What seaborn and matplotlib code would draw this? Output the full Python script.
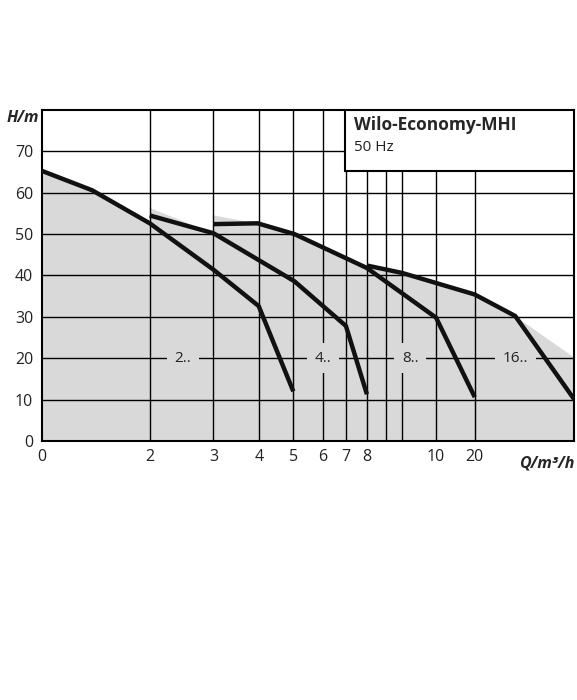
import matplotlib
matplotlib.use("Agg")
import matplotlib.pyplot as plt
import seaborn as sns
import numpy as np
import pandas as pd

sns.set_theme(style="white")
plt.rcParams['font.family'] = ['Open Sans', 'DejaVu Sans']

# x-axis: composite scale, tick labels and their positions on the axis
tick_labels = ["0", "2", "3", "4", "5", "6", "7", "8", "10", "20"]
tick_pos = [0, 294, 467, 590, 684, 764, 827, 884, 1072, 1177]
extra_grid = [935, 980]
x_max = 1447

# pump curves: (position, H)
c1_x = [0, 137, 294, 467, 590, 684]
c1_h = [65.3, 60.6, 52.6, 41.4, 32.6, 24.0]
c2_x = [294, 294, 467, 687, 827, 884]
c2_h = [52.6, 56.4, 50.2, 38.6, 27.8, 22.6]
c3_x = [467, 467, 587, 687, 884, 1072, 1177]
c3_h = [50.2, 54.6, 52.6, 50.0, 41.8, 29.8, 21.2]
c4_x = [884, 980, 1177, 1287, 1447]
c4_h = [42.4, 40.6, 35.4, 30.2, 20.2]
curves = [(c1_x, c1_h), (c2_x, c2_h), (c3_x, c3_h), (c4_x, c4_h)]

series_labels = ["2..", "4..", "8..", "16.."]
label_pos = [384, 765, 1002, 1287]

fig = plt.figure(figsize=(5.77, 7.0), dpi=100)
ax = fig.add_axes([0.072, 0.37, 0.923, 0.473])
gray = "#d9d9d9"

for xs, hs in curves:
    xs2 = np.array(xs, float); hs2 = np.array(hs, float)
    # smooth via quadratic-ish interpolation on dense grid
    ax.fill_between(list(xs2) + [xs2[-1]], list(hs2) + [0], 0, color=gray, lw=0, zorder=1)

# grid
for y in range(10, 80, 10):
    ax.axhline(y, color="black", lw=1, zorder=2)
for x in tick_pos[1:] + extra_grid:
    ax.axvline(x, color="black", lw=1, zorder=2)

for xs, hs in curves:
    d = pd.DataFrame({"x": list(xs) + [xs[-1]], "h": list(hs) + [0]})
    sns.lineplot(data=d, x="x", y="h", sort=False, color="#111111", lw=3.2,
                 ax=ax, zorder=4, solid_joinstyle="round", solid_capstyle="butt")

for lab, p in zip(series_labels, label_pos):
    ax.text(p, 20, lab, ha="center", va="center", fontsize=11, color="#222222",
            zorder=3, bbox=dict(boxstyle="square,pad=0.5", fc=gray, ec="none"))

# legend box
ax.add_patch(plt.Rectangle((825, 65.2), x_max - 825, 14.8, fc="white", ec="black",
                           lw=1.5, zorder=5))
ax.text(848, 76.3, "Wilo-Economy-MHI", fontsize=12.5, fontweight="bold", zorder=6, va="center")
ax.text(848, 70.8, "50 Hz", fontsize=11, zorder=6, va="center", color="#222222")

ax.set_xlim(0, x_max)
ax.set_ylim(0, 80)
ax.set_xticks(tick_pos)
ax.set_xticklabels(tick_labels)
ax.set_yticks(range(0, 80, 10))
ax.tick_params(labelsize=11.5, length=0, pad=6, colors="#222222")
ax.set_xlabel(""); ax.set_ylabel("")
for s in ax.spines.values():
    s.set_color("black"); s.set_linewidth(1.5); s.set_visible(True)
ax.text(-0.005, 1.0, "H/m", transform=ax.transAxes, ha="right", va="top",
        fontsize=11.5, fontweight="bold", style="italic")
ax.text(1.0, -0.045, "Q/m³/h", transform=ax.transAxes, ha="right", va="top",
        fontsize=11.5, fontweight="bold", style="italic")

fig.savefig("out.png", dpi=100)
